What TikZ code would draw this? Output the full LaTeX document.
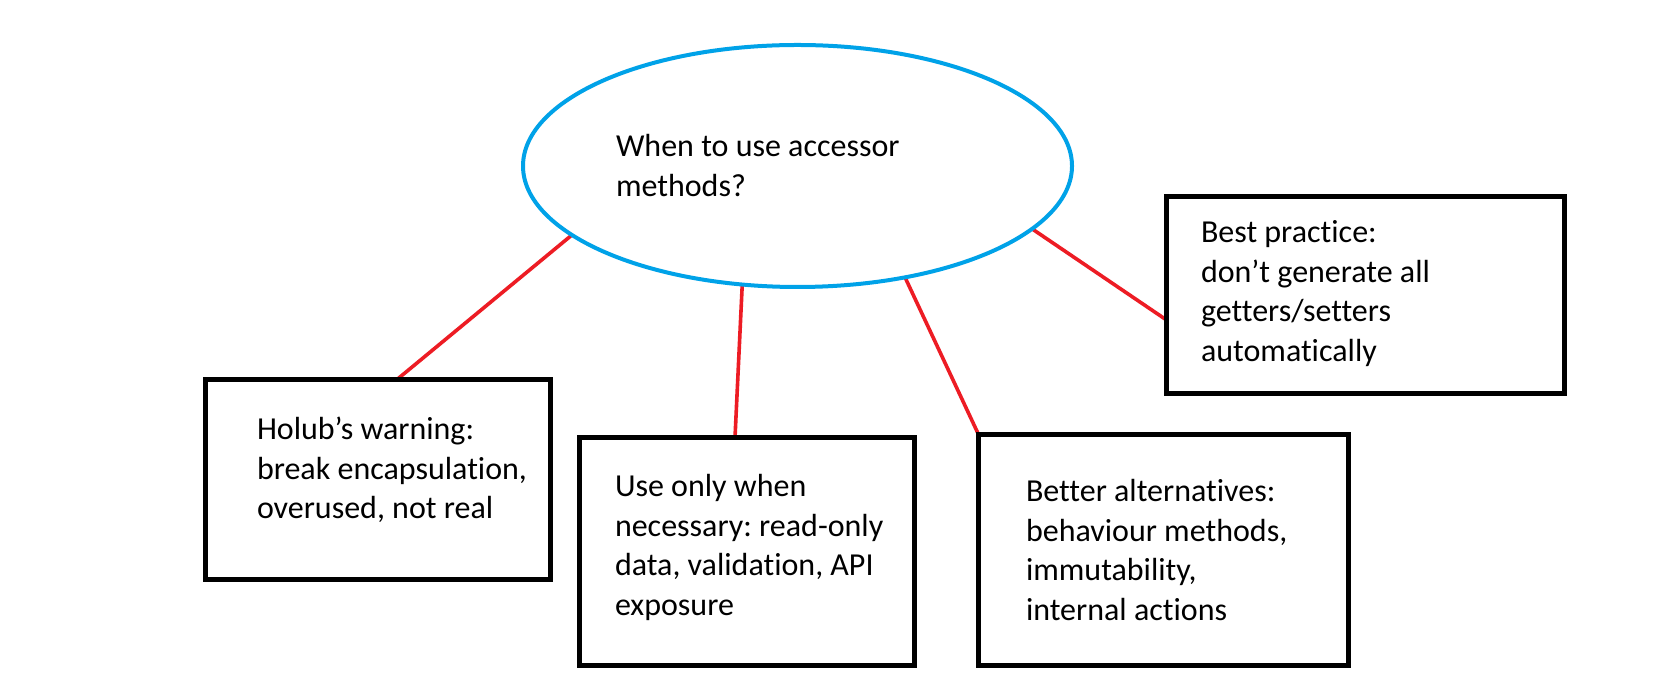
\documentclass[tikz,border=0pt]{standalone}
\usepackage{fontspec}
\setmainfont{Carlito}[Ligatures=NoCommon]
\usetikzlibrary{shapes.geometric,calc,backgrounds}
\definecolor{elblue}{RGB}{0,162,232}
\definecolor{lnred}{RGB}{237,28,36}
\newcommand{\txtlines}[1]{\begin{tabular}[t]{@{}l@{}}#1\end{tabular}}
\frenchspacing
\begin{document}
\begin{tikzpicture}[x=0.5pt,y=-0.5pt,
  boxnode/.style={draw=black, line width=2.5pt, rectangle, inner sep=0pt, outer sep=0pt, anchor=north west},
  labeltext/.style={anchor=base west, inner sep=0pt, outer sep=0pt, font=\frenchspacing\fontsize{16}{19.75}\selectfont, text=black},
  redln/.style={draw=lnred, line width=1.8pt},
  ovalnode/.style={ellipse, draw=elblue, line width=2pt, inner sep=0pt, outer sep=0pt}
]
\useasboundingbox (0,0) rectangle (1679,688);

% central question
\node[ovalnode, minimum width=274.5pt, minimum height=121pt] (q) at (797.5,166) {};
\node[labeltext] (qt) at (616,157) {\txtlines{When to use accessor\\methods?}};

% boxes
\node[boxnode, minimum width=172.5pt, minimum height=100pt] (holub) at (205.5,379.5) {};
\node[labeltext] (holubt) at (257,440) {\txtlines{Holub’s warning:\\break encapsulation,\\overused, not real}};

\node[boxnode, minimum width=167.5pt, minimum height=114pt] (useonly) at (579.5,437.5) {};
\node[labeltext] (useonlyt) at (615,497) {\txtlines{Use only when\\necessary: read-only\\data, validation, API\\exposure}};

\node[boxnode, minimum width=185pt, minimum height=115.5pt] (better) at (978.5,434.5) {};
\node[labeltext] (bettert) at (1026,502) {\txtlines{Better alternatives:\\behaviour methods,\\immutability,\\internal actions}};

\node[boxnode, minimum width=199pt, minimum height=98.5pt] (best) at (1166.5,196.5) {};
\node[labeltext] (bestt) at (1201,243) {\txtlines{Best practice:\\don’t generate all\\getters/setters\\automatically}};

% connectors
\begin{scope}[on background layer]
\fill[white] (0,0) rectangle (1679,688);
\draw[redln] (q.197) -- ($(holub.north west)+(191.5,0)$);
\draw[redln] (q.245.6) -- ($(useonly.north west)+(155.5,0)$);
\draw[redln] (q.314.7) -- (better.north west);
\draw[redln] (q.345.9) -- ($(best.north west)+(0,123.5)$);
\end{scope}
\end{tikzpicture}
\end{document}
